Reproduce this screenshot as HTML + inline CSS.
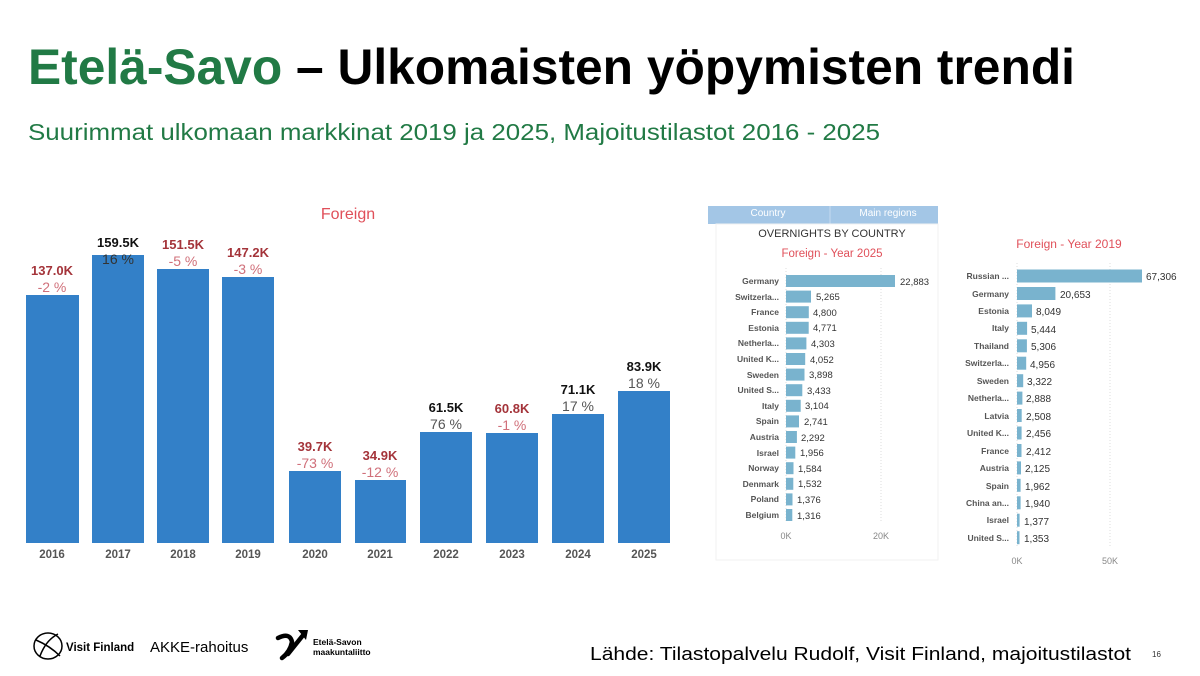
<!DOCTYPE html>
<html><head><meta charset="utf-8"><style>
html,body{margin:0;padding:0;background:#fff;}
svg{display:block;font-family:"Liberation Sans",sans-serif;}
</style></head><body>
<svg width="1200" height="676" viewBox="0 0 1200 676" xmlns="http://www.w3.org/2000/svg">
<rect width="1200" height="676" fill="#fff"/>
<text x="28" y="84" font-size="50" font-weight="bold" textLength="1047" lengthAdjust="spacingAndGlyphs"><tspan fill="#217a45">Etelä-Savo</tspan><tspan fill="#000"> – Ulkomaisten yöpymisten trendi</tspan></text>
<text x="28" y="140" font-size="23" fill="#217a45" textLength="852" lengthAdjust="spacingAndGlyphs">Suurimmat ulkomaan markkinat 2019 ja 2025, Majoitustilastot 2016 - 2025</text>

<text x="348" y="219" font-size="16" fill="#e0505a" text-anchor="middle">Foreign</text>
<g fill="#3380c8">
<rect x="26" y="295" width="53" height="248"/>
<rect x="92" y="255" width="52" height="288"/>
<rect x="157" y="269" width="52" height="274"/>
<rect x="222" y="277" width="52" height="266"/>
<rect x="289" y="471" width="52" height="72"/>
<rect x="355" y="480" width="51" height="63"/>
<rect x="420" y="432" width="52" height="111"/>
<rect x="486" y="433" width="52" height="110"/>
<rect x="552" y="414" width="52" height="129"/>
<rect x="618" y="391" width="52" height="152"/>
</g>
<g font-size="13" font-weight="bold" text-anchor="middle">
<text x="52" y="275" fill="#a4343a">137.0K</text>
<text x="118" y="247" fill="#111">159.5K</text>
<text x="183" y="249" fill="#a4343a">151.5K</text>
<text x="248" y="257" fill="#a4343a">147.2K</text>
<text x="315" y="451" fill="#a4343a">39.7K</text>
<text x="380" y="460" fill="#a4343a">34.9K</text>
<text x="446" y="412" fill="#111">61.5K</text>
<text x="512" y="413" fill="#a4343a">60.8K</text>
<text x="578" y="394" fill="#111">71.1K</text>
<text x="644" y="371" fill="#111">83.9K</text>
</g>
<g font-size="14" text-anchor="middle">
<text x="52" y="292" fill="#d0707a">-2 %</text>
<text x="118" y="264" fill="#333">16 %</text>
<text x="183" y="266" fill="#d0707a">-5 %</text>
<text x="248" y="274" fill="#d0707a">-3 %</text>
<text x="315" y="468" fill="#d0707a">-73 %</text>
<text x="380" y="477" fill="#d0707a">-12 %</text>
<text x="446" y="429" fill="#555">76 %</text>
<text x="512" y="430" fill="#d0707a">-1 %</text>
<text x="578" y="411" fill="#555">17 %</text>
<text x="644" y="388" fill="#555">18 %</text>
</g>
<g font-size="11.5" font-weight="bold" fill="#555" text-anchor="middle">
<text x="52" y="558">2016</text><text x="118" y="558">2017</text><text x="183" y="558">2018</text>
<text x="248" y="558">2019</text><text x="315" y="558">2020</text><text x="380" y="558">2021</text>
<text x="446" y="558">2022</text><text x="512" y="558">2023</text><text x="578" y="558">2024</text>
<text x="644" y="558">2025</text>
</g>

<!-- right panel -->
<rect x="708" y="206" width="230" height="18" fill="#a3c6e6"/>
<line x1="830" y1="206" x2="830" y2="224" stroke="#c4daf0"/>
<text x="768" y="216" font-size="10" fill="#fff" text-anchor="middle">Country</text>
<text x="888" y="216" font-size="10" fill="#fff" text-anchor="middle">Main regions</text>
<rect x="716" y="224" width="222" height="336" fill="#fff" stroke="#f2f2f2"/>
<text x="832" y="237" font-size="11" fill="#333" text-anchor="middle">OVERNIGHTS BY COUNTRY</text>
<text x="832" y="257" font-size="11.5" fill="#e0505a" text-anchor="middle">Foreign - Year 2025</text>
<line x1="786" y1="268" x2="786" y2="522" stroke="#ddd" stroke-dasharray="1,2"/>
<line x1="881" y1="268" x2="881" y2="522" stroke="#ddd" stroke-dasharray="1,2"/>
<text x="786" y="539" font-size="9" fill="#888" text-anchor="middle">0K</text>
<text x="881" y="539" font-size="9" fill="#888" text-anchor="middle">20K</text>
<g font-size="8.5" font-weight="bold" fill="#555" text-anchor="end">
<text x="779" y="284">Germany</text><text x="779" y="300">Switzerla...</text><text x="779" y="315">France</text>
<text x="779" y="331">Estonia</text><text x="779" y="346">Netherla...</text><text x="779" y="362">United K...</text>
<text x="779" y="378">Sweden</text><text x="779" y="393">United S...</text><text x="779" y="409">Italy</text>
<text x="779" y="424">Spain</text><text x="779" y="440">Austria</text><text x="779" y="456">Israel</text>
<text x="779" y="471">Norway</text><text x="779" y="487">Denmark</text><text x="779" y="502">Poland</text>
<text x="779" y="518">Belgium</text>
</g>
<g fill="#79b3ce">
<rect x="786" y="275" width="109" height="12"/><rect x="786" y="290.6" width="25" height="12"/>
<rect x="786" y="306.2" width="22.8" height="12"/><rect x="786" y="321.8" width="22.7" height="12"/>
<rect x="786" y="337.4" width="20.4" height="12"/><rect x="786" y="353" width="19.2" height="12"/>
<rect x="786" y="368.6" width="18.5" height="12"/><rect x="786" y="384.2" width="16.3" height="12"/>
<rect x="786" y="399.8" width="14.7" height="12"/><rect x="786" y="415.4" width="13" height="12"/>
<rect x="786" y="431" width="10.9" height="12"/><rect x="786" y="446.6" width="9.3" height="12"/>
<rect x="786" y="462.2" width="7.5" height="12"/><rect x="786" y="477.8" width="7.3" height="12"/>
<rect x="786" y="493.4" width="6.5" height="12"/><rect x="786" y="509" width="6.3" height="12"/>
</g>
<g font-size="9.5" fill="#333">
<text x="900" y="285">22,883</text><text x="816" y="300">5,265</text><text x="813" y="316">4,800</text>
<text x="813" y="331">4,771</text><text x="811" y="347">4,303</text><text x="810" y="363">4,052</text>
<text x="809" y="378">3,898</text><text x="807" y="394">3,433</text><text x="805" y="409">3,104</text>
<text x="804" y="425">2,741</text><text x="801" y="441">2,292</text><text x="800" y="456">1,956</text>
<text x="798" y="472">1,584</text><text x="798" y="487">1,532</text><text x="797" y="503">1,376</text>
<text x="797" y="519">1,316</text>
</g>

<text x="1069" y="248" font-size="12" fill="#e0505a" text-anchor="middle">Foreign - Year 2019</text>
<line x1="1017" y1="263" x2="1017" y2="546" stroke="#ddd" stroke-dasharray="1,2"/>
<line x1="1110" y1="263" x2="1110" y2="546" stroke="#ddd" stroke-dasharray="1,2"/>
<text x="1017" y="564" font-size="9" fill="#888" text-anchor="middle">0K</text>
<text x="1110" y="564" font-size="9" fill="#888" text-anchor="middle">50K</text>
<g font-size="8.5" font-weight="bold" fill="#555" text-anchor="end">
<text x="1009" y="279">Russian ...</text><text x="1009" y="297">Germany</text><text x="1009" y="314">Estonia</text>
<text x="1009" y="331">Italy</text><text x="1009" y="349">Thailand</text><text x="1009" y="366">Switzerla...</text>
<text x="1009" y="384">Sweden</text><text x="1009" y="401">Netherla...</text><text x="1009" y="419">Latvia</text>
<text x="1009" y="436">United K...</text><text x="1009" y="454">France</text><text x="1009" y="471">Austria</text>
<text x="1009" y="489">Spain</text><text x="1009" y="506">China an...</text><text x="1009" y="523">Israel</text>
<text x="1009" y="541">United S...</text>
</g>
<g fill="#79b3ce">
<rect x="1017" y="269.5" width="125" height="13"/><rect x="1017" y="287" width="38.4" height="13"/>
<rect x="1017" y="304.4" width="15" height="13"/><rect x="1017" y="321.8" width="10.1" height="13"/>
<rect x="1017" y="339.3" width="9.9" height="13"/><rect x="1017" y="356.7" width="9.2" height="13"/>
<rect x="1017" y="374.2" width="6.2" height="13"/><rect x="1017" y="391.6" width="5.4" height="13"/>
<rect x="1017" y="409" width="4.7" height="13"/><rect x="1017" y="426.5" width="4.6" height="13"/>
<rect x="1017" y="444" width="4.5" height="13"/><rect x="1017" y="461.4" width="4" height="13"/>
<rect x="1017" y="478.8" width="3.6" height="13"/><rect x="1017" y="496.3" width="3.6" height="13"/>
<rect x="1017" y="513.7" width="2.6" height="13"/><rect x="1017" y="531.2" width="2.5" height="13"/>
</g>
<g font-size="10" fill="#333">
<text x="1146" y="280">67,306</text><text x="1060" y="298">20,653</text><text x="1036" y="315">8,049</text>
<text x="1031" y="333">5,444</text><text x="1031" y="350">5,306</text><text x="1030" y="368">4,956</text>
<text x="1027" y="385">3,322</text><text x="1026" y="402">2,888</text><text x="1026" y="420">2,508</text>
<text x="1026" y="437">2,456</text><text x="1026" y="455">2,412</text><text x="1025" y="472">2,125</text>
<text x="1025" y="490">1,962</text><text x="1025" y="507">1,940</text><text x="1024" y="525">1,377</text>
<text x="1024" y="542">1,353</text>
</g>

<!-- footer -->
<g fill="none" stroke="#000" stroke-width="1.5">
<ellipse cx="48" cy="646" rx="14" ry="13"/>
<path d="M36 640 Q50 646 60 656"/><path d="M40 656 Q46 640 58 634"/>
</g>
<text x="66" y="651" font-size="11.5" font-weight="bold" fill="#000">Visit Finland</text>
<text x="150" y="652" font-size="15" fill="#000">AKKE-rahoitus</text>
<g stroke="#000" stroke-width="4.5" fill="none" stroke-linecap="round">
<path d="M278 638 Q290 632 292 642 Q290 652 282 658"/><path d="M288 654 L304 634"/>
</g>
<path d="M298 630 L308 630 L306 640 Z" fill="#000"/>
<text x="313" y="645" font-size="8.5" font-weight="bold" fill="#000">Etelä-Savon</text>
<text x="313" y="655" font-size="8.5" font-weight="bold" fill="#000">maakuntaliitto</text>
<text x="590" y="660" font-size="18" fill="#000" textLength="541" lengthAdjust="spacingAndGlyphs">Lähde: Tilastopalvelu Rudolf, Visit Finland, majoitustilastot</text>
<text x="1152" y="657" font-size="8" fill="#333">16</text>
</svg>
</body></html>
